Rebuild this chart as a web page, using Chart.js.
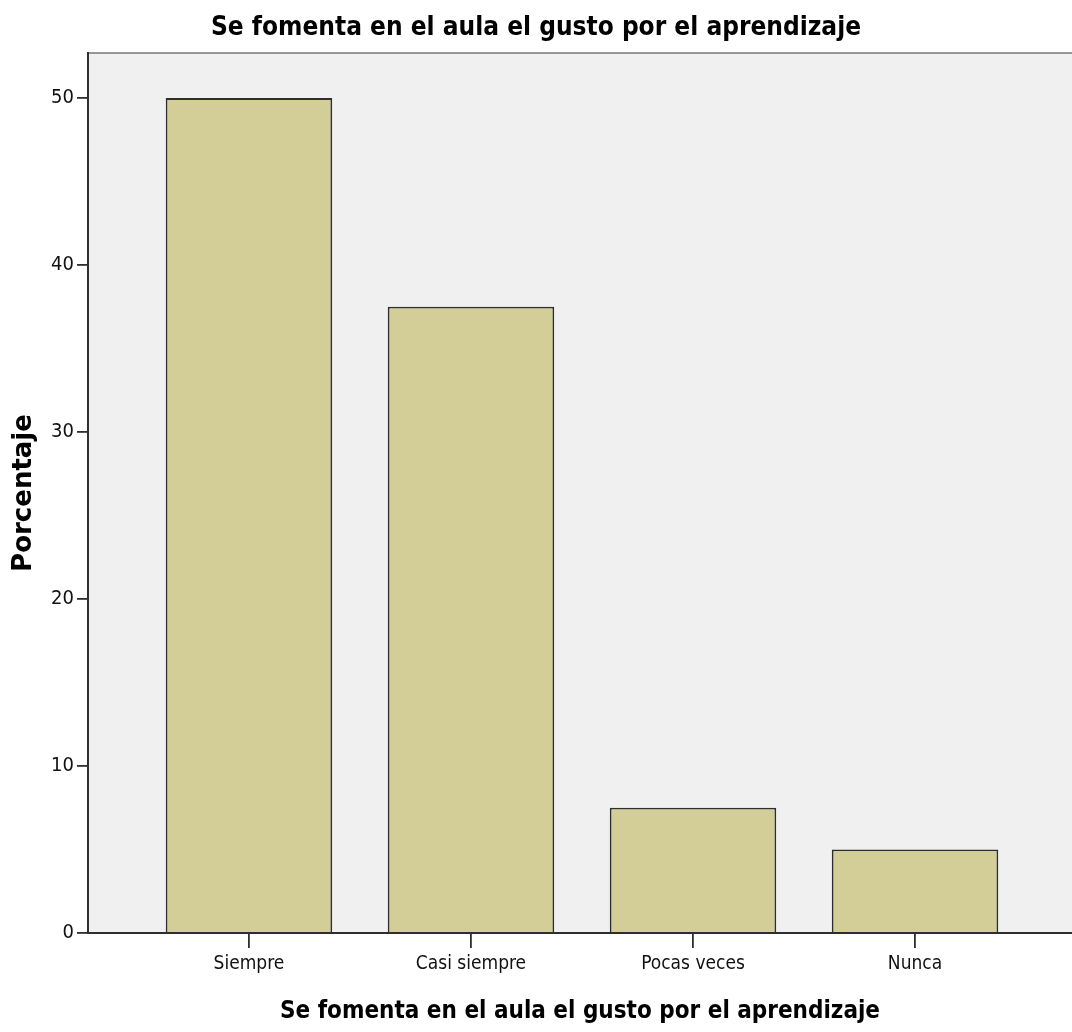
<!DOCTYPE html>
<html>
<head>
<meta charset="utf-8">
<script src="https://cdn.jsdelivr.net/npm/chart.js@4/dist/chart.umd.min.js"></script>
<style>
  html, body { margin: 0; padding: 0; background: #ffffff; }
  #wrap { width: 1072px; height: 1032px; }
</style>
</head>
<body>
<div id="wrap"><canvas id="c" width="1072" height="1032"></canvas></div>
<script>
const chartTitle = "Se fomenta en el aula el gusto por el aprendizaje";
const xAxisTitle = "Se fomenta en el aula el gusto por el aprendizaje";
const yAxisTitle = "Porcentaje";
const categories = ["Siempre", "Casi siempre", "Pocas veces", "Nunca"];
const percentages = [50, 37.5, 7.5, 5];
const yTicks = [0, 10, 20, 30, 40, 50];

const narrow = "'Liberation Sans Narrow', 'Arial Narrow', 'DejaVu Sans Condensed', sans-serif";

const plotBg = {
  id: 'plotBg',
  beforeDraw(chart) {
    const {ctx, chartArea: a} = chart;
    ctx.save();
    ctx.fillStyle = '#f0f0f0';
    ctx.fillRect(a.left, a.top, a.right - a.left, a.bottom - a.top);
    ctx.strokeStyle = '#777777';
    ctx.lineWidth = 1.5;
    ctx.beginPath();
    ctx.moveTo(a.left, a.top);
    ctx.lineTo(a.right, a.top);
    ctx.stroke();
    ctx.restore();
  }
};

new Chart(document.getElementById('c'), {
  type: 'bar',
  data: {
    datasets: [{
      data: categories.map((c, i) => ({x: i, y: percentages[i]})),
      backgroundColor: '#d3ce97',
      borderColor: '#2e2e2e',
      borderWidth: 1.8,
      categoryPercentage: 1,
      barPercentage: 0.75
    }]
  },
  options: {
    responsive: false,
    animation: false,
    layout: { padding: 0 },
    plugins: {
      legend: { display: false },
      tooltip: { enabled: false },
      title: {
        display: true,
        text: chartTitle,
        color: '#000000',
        font: { family: narrow, size: 26, weight: 'bold', lineHeight: 1.2 },
        padding: { top: 12.5, bottom: 9.3 }
      }
    },
    scales: {
      x: {
        type: 'linear',
        offset: false,
        min: -0.725,
        max: 3.707,
        afterBuildTicks(scale) { scale.ticks = categories.map((c, i) => ({value: i})); },
        afterFit(scale) { scale.height = 99; },
        ticks: {
          autoSkip: false,
          maxRotation: 0,
          color: '#111111',
          padding: 5,
          font: { family: narrow, size: 19 },
          callback: (v) => categories[v] ?? ''
        },
        grid: { offset: false, drawOnChartArea: false, drawTicks: true, tickLength: 15, color: '#2e2e2e', lineWidth: 1.8 },
        border: { display: true, color: '#2e2e2e', width: 2 },
        title: {
          display: true,
          text: xAxisTitle,
          color: '#000000',
          font: { family: "'DejaVu Sans Condensed', 'DejaVu Sans', sans-serif", size: 24, weight: 'bold', lineHeight: 1.2 },
          padding: { top: 0, bottom: 6 }
        }
      },
      y: {
        min: 0,
        max: 52.7,
        afterBuildTicks(scale) { scale.ticks = yTicks.map(v => ({value: v})); },
        afterFit(scale) { scale.width = 88; },
        ticks: {
          color: '#111111',
          padding: 3,
          font: { family: narrow, size: 20 }
        },
        grid: { drawOnChartArea: false, drawTicks: true, tickLength: 11, color: '#2e2e2e', lineWidth: 1.8 },
        border: { display: true, color: '#2e2e2e', width: 2 },
        title: {
          display: true,
          text: yAxisTitle,
          color: '#000000',
          font: { family: "'DejaVu Sans', sans-serif", size: 26, weight: 'bold', lineHeight: 1.2 },
          padding: { top: 9, bottom: 0 }
        }
      }
    }
  },
  plugins: [plotBg]
});
</script>
</body>
</html>
